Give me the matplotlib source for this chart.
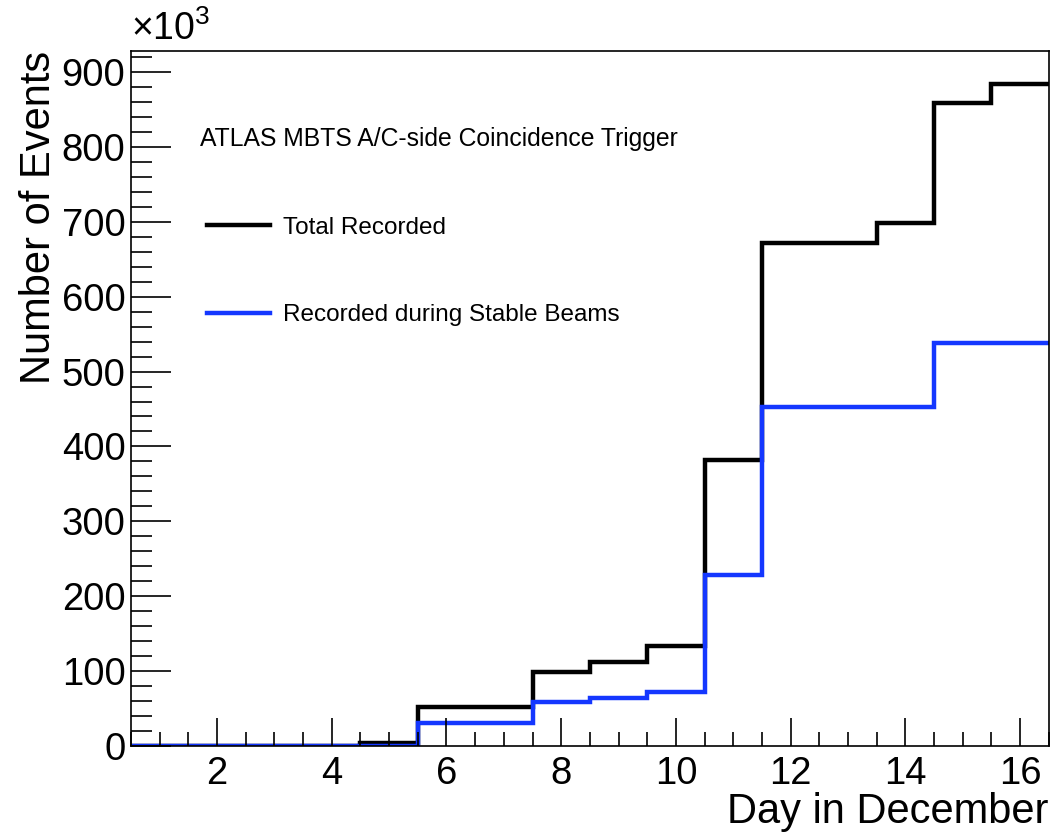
import numpy as np
import matplotlib
matplotlib.use("Agg")
import matplotlib.pyplot as plt
from matplotlib.ticker import MultipleLocator

plt.rcParams['font.family'] = ['Liberation Sans', 'DejaVu Sans']
plt.rcParams['mathtext.fontset'] = 'custom'
plt.rcParams['mathtext.rm'] = 'Liberation Sans'

# dane: dni grudnia i liczba zdarzen (w tysiacach)
days = np.arange(1, 17)
total_recorded = [0, 0, 0, 0, 3.5, 52, 52, 99, 112, 133.5, 382, 672, 672, 699, 859, 884]
stable_beams = [0, 0, 0, 0, 0, 30, 30, 59, 64.5, 71.5, 228, 453, 453, 453, 538, 538]

edges = np.append(days - 0.5, days[-1] + 0.5)

W, H = 1052, 839
fig = plt.figure(figsize=(W / 100, H / 100), dpi=100)
ax = fig.add_axes([0.1245, 0.111, 0.8725, 0.828])

ax.stairs(total_recorded, edges, baseline=None, color='black', linewidth=3.2,
          label='Total Recorded')
ax.stairs(stable_beams, edges, baseline=None, color='#1437ff', linewidth=3.2,
          label='Recorded during Stable Beams')

ax.set_xlim(0.5, 16.5)
ax.set_ylim(0, 928)

ax.xaxis.set_major_locator(MultipleLocator(2))
ax.xaxis.set_minor_locator(MultipleLocator(0.5))
ax.yaxis.set_major_locator(MultipleLocator(100))
ax.yaxis.set_minor_locator(MultipleLocator(20))
ax.tick_params(which='both', direction='in', top=False, right=False, width=1.2)
ax.tick_params(axis='x', which='major', length=20, labelsize=27.5, pad=7)
ax.tick_params(axis='x', which='minor', length=10)
ax.tick_params(axis='y', which='major', length=29, labelsize=27.5, pad=4)
ax.tick_params(axis='y', which='minor', length=15)
for s in ax.spines.values():
    s.set_linewidth(1.2)

ax.set_xlabel('Day in December', fontsize=30, loc='right', labelpad=0)
ax.set_ylabel('Number of Events', fontsize=30, loc='top', labelpad=2)
ax.text(0.0, 1.005, r'$\times10^{3}$', transform=ax.transAxes, fontsize=27,
        ha='left', va='bottom')

fig.text(200 / W, 1 - 139 / H, 'ATLAS MBTS A/C-side Coincidence Trigger',
         fontsize=17.8, ha='left', va='center')

leg = fig.legend(loc='center left', bbox_to_anchor=(207 / W, 1 - 271.5 / H),
                 frameon=False, fontsize=17.5, handlelength=2.6, borderpad=0,
                 borderaxespad=0, labelspacing=2.7, handletextpad=0.53)

fig.savefig('out.png', dpi=100)
